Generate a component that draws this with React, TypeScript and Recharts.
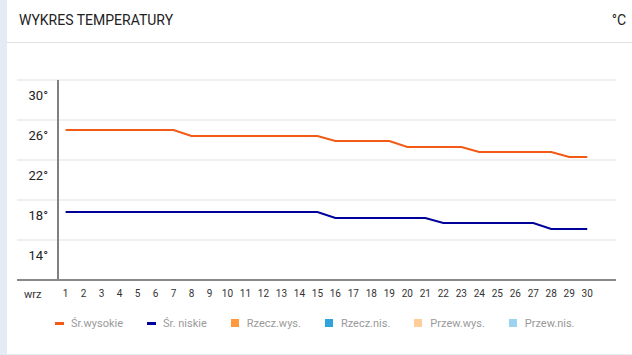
import { LineChart, Line, XAxis, YAxis, CartesianGrid, ReferenceLine, Legend, Label } from "recharts";

const days = Array.from({ length: 30 }, (_, i) => i + 1);
const yTicks = [14, 18, 22, 26, 30];
const gridValues = [15.5, 19.5, 23.5, 27.5, 31.5];

// average highs / lows (°C)
const srWysokie = [
  26.5, 26.5, 26.5, 26.5, 26.5, 26.5, 26.5,
  25.9, 25.9, 25.9, 25.9, 25.9, 25.9, 25.9, 25.9,
  25.4, 25.4, 25.4, 25.4,
  24.8, 24.8, 24.8, 24.8,
  24.3, 24.3, 24.3, 24.3, 24.3,
  23.8, 23.8,
];
const srNiskie = [
  18.3, 18.3, 18.3, 18.3, 18.3, 18.3, 18.3, 18.3, 18.3, 18.3, 18.3, 18.3, 18.3, 18.3, 18.3,
  17.7, 17.7, 17.7, 17.7, 17.7, 17.7,
  17.2, 17.2, 17.2, 17.2, 17.2, 17.2,
  16.6, 16.6, 16.6,
];
// no readings shown for these yet
const rzeczWys: number[] = [];
const rzeczNis: number[] = [];
const przewWys: number[] = [];
const przewNis: number[] = [];

const seriesNames = ["Śr.wysokie", "Śr. niskie", "Rzecz.wys.", "Rzecz.nis.", "Przew.wys.", "Przew.nis."];

const data = days.map((d, i) => ({
  day: d,
  srWys: srWysokie[i],
  srNis: srNiskie[i],
  rzWys: rzeczWys[i] ?? null,
  rzNis: rzeczNis[i] ?? null,
  prWys: przewWys[i] ?? null,
  prNis: przewNis[i] ?? null,
}));

const FONT = '"Liberation Sans Narrow", "Roboto", sans-serif';

function LegendContent({ payload }: any) {
  return (
    <div style={{ display: "flex", alignItems: "center", height: 20, paddingLeft: 55, fontSize: 11, color: "#9a9a9a" }}>
      {(payload || []).map((p: any) => (
        <div key={p.value} style={{ display: "flex", alignItems: "center", marginRight: 24 }}>
          {p.type === "square" ? (
            <span style={{ width: 8, height: 8, background: p.color, marginRight: 8 }} />
          ) : (
            <span style={{ width: 9, height: 3, background: p.color, marginRight: 7 }} />
          )}
          <span>{p.value}</span>
        </div>
      ))}
    </div>
  );
}

function YTick({ x, y, payload }: any) {
  return (
    <text x={x + 31} y={y} dy="0.355em" textAnchor="end" fontSize={13} fill="#222">
      {`${payload.value}°`}
    </text>
  );
}

export default function App() {
  return (
    <div style={{ position: "absolute", left: 0, top: 0, width: 632, height: 355, background: "#e5ebf3", fontFamily: FONT }}>
      <div style={{ position: "absolute", left: 7, top: 0, width: 625, height: 354, background: "#fff" }}>
        <div style={{ position: "absolute", left: 12, top: 12, fontSize: 14, color: "#222" }}>WYKRES TEMPERATURY</div>
        <div style={{ position: "absolute", right: 6, top: 12, fontSize: 14, color: "#222" }}>°C</div>
        <div style={{ position: "absolute", left: 0, right: 0, top: 42, height: 1, background: "#e2e2e2" }} />
      </div>
      <div style={{ position: "absolute", left: 0, top: 0 }}>
        <LineChart width={632} height={355} data={data} margin={{ top: 80, right: 16, bottom: 27, left: 16 }}>
          <CartesianGrid horizontal vertical={false} horizontalValues={gridValues} stroke="#f0f0f0" strokeWidth={2} />
          <XAxis
            dataKey="day"
            type="number"
            domain={[-1.7, 31.6]}
            ticks={days}
            interval={0}
            height={28}
            tickSize={0}
            tickMargin={10}
            tickLine={false}
            axisLine={{ stroke: "#888", strokeWidth: 2 }}
            tick={{ fontSize: 10, fill: "#333" }}
          >
            <Label value="wrz" position="insideLeft" offset={7} fontSize={11} fill="#333" />
          </XAxis>
          <YAxis
            type="number"
            domain={[11.5, 31.5]}
            ticks={yTicks}
            interval={0}
            width={1}
            tickSize={0}
            tickMargin={0}
            tickLine={false}
            axisLine={false}
            tick={<YTick />}
          />
          <ReferenceLine x={0.58} stroke="#808080" strokeWidth={2} />
          <Legend
            verticalAlign="bottom"
            height={20}
            content={<LegendContent />}
            itemSorter={(item: any) => seriesNames.indexOf(item.value)}
            wrapperStyle={{ top: 313, left: 0, width: 632 }}
          />
          <Line type="linear" dataKey="srWys" name="Śr.wysokie" stroke="#f25a16" strokeWidth={2} dot={false} legendType="line" isAnimationActive={false} />
          <Line type="linear" dataKey="srNis" name="Śr. niskie" stroke="#00009a" strokeWidth={2} dot={false} legendType="line" isAnimationActive={false} />
          <Line type="linear" dataKey="rzWys" name="Rzecz.wys." stroke="#ff9a3c" dot={false} legendType="square" isAnimationActive={false} />
          <Line type="linear" dataKey="rzNis" name="Rzecz.nis." stroke="#2ea3dc" dot={false} legendType="square" isAnimationActive={false} />
          <Line type="linear" dataKey="prWys" name="Przew.wys." stroke="#ffcd9c" dot={false} legendType="square" isAnimationActive={false} />
          <Line type="linear" dataKey="prNis" name="Przew.nis." stroke="#9dd3ef" dot={false} legendType="square" isAnimationActive={false} />
        </LineChart>
      </div>
    </div>
  );
}
